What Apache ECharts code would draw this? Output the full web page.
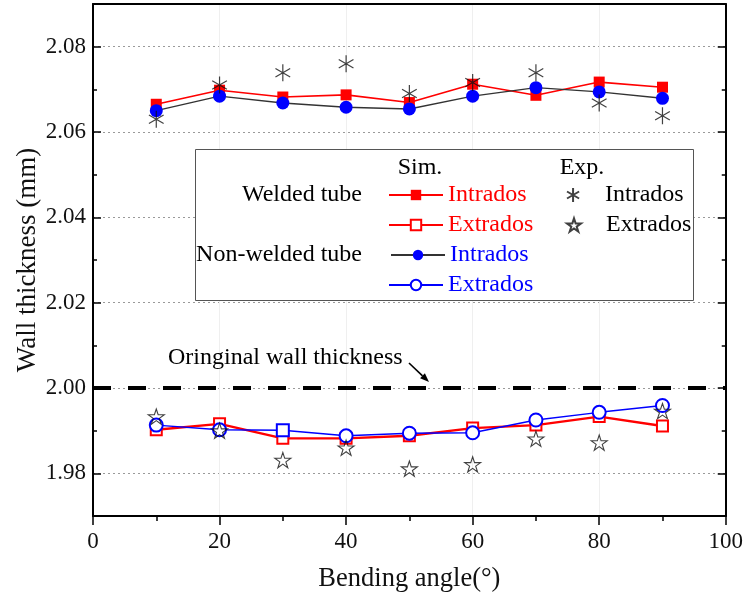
<!DOCTYPE html>
<html>
<head>
<meta charset="utf-8">
<script src="https://cdn.jsdelivr.net/npm/echarts@6/dist/echarts.min.js"></script>
<style>
  html, body { margin: 0; padding: 0; background: #fff; }
  #chart { width: 746px; height: 599px; }
</style>
</head>
<body>
<div id="chart"></div>
<script>
// Bending angles (degrees) at which wall thickness was evaluated
const angles = [10, 20, 30, 40, 50, 60, 70, 80, 90];

// Simulated wall thickness (mm)
const weldedIntradosSim    = [2.0665, 2.0698, 2.0682, 2.0687, 2.0669, 2.0712, 2.0686, 2.0717, 2.0705];
const weldedExtradosSim    = [1.9902, 1.9916, 1.9882, 1.9882, 1.9888, 1.9906, 1.9913, 1.9933, 1.9911];
const nonWeldedIntradosSim = [2.0650, 2.0684, 2.0668, 2.0658, 2.0654, 2.0684, 2.0704, 2.0694, 2.0679];
const nonWeldedExtradosSim = [1.9913, 1.9902, 1.9901, 1.9888, 1.9894, 1.9895, 1.9925, 1.9943, 1.9959];

// Experimental wall thickness (mm)
const intradosExp = [2.0630, 2.0710, 2.0739, 2.0760, 2.0690, 2.0716, 2.0739, 2.0668, 2.0638];
const extradosExp = [1.9933, 1.9900, 1.9831, 1.9860, 1.9811, 1.9821, 1.9881, 1.9872, 1.9946];

// Reference thickness of the tube before bending
const originalThickness = 2.00;

// Axis ranges and labelled ticks
const xRange = [0, 100];
const yRange = [1.97, 2.09];
const yMajorTicks = [1.98, 2.00, 2.02, 2.04, 2.06, 2.08];

const FONT = '"Liberation Serif", "Times New Roman", serif';
const RED = '#ff0000';
const BLUE = '#0000ff';

const pairs = vals => angles.map((a, i) => [a, vals[i]]);

const asteriskPath = 'path://M0,-10L0,10M-8.66,-5L8.66,5M-8.66,5L8.66,-5';
const starPath = 'path://M0,-10L2.245,-3.09L9.511,-3.09L3.633,1.18L5.878,8.09L0,3.82L-5.878,8.09L-3.633,1.18L-9.511,-3.09L-2.245,-3.09Z';

const chart = echarts.init(document.getElementById('chart'), null, { renderer: 'canvas' });

const tickLine = { color: '#000', width: 1.5 };
const frameLine = { show: true, onZero: false, lineStyle: { color: '#000', width: 2 } };

// One legend block per series so each entry can sit in its own row/column
function legendFor(name, text, color, left, centerY, iconW, iconH, textPad) {
  const h = iconH || 13;
  return {
    show: true,
    data: [name],
    left: left,
    top: centerY - 12,
    padding: 0,
    itemGap: 0,
    itemWidth: iconW,
    itemHeight: h,
    selectedMode: false,
    formatter: () => text,
    textStyle: { fontFamily: FONT, fontSize: 24, color: color, padding: [0, 0, 0, textPad || 0] }
  };
}

function label(text, x, y, align, size) {
  return {
    type: 'text', x: x, y: y, z: 10,
    style: {
      text: text, fill: '#000',
      font: (size || 24) + 'px ' + FONT,
      textAlign: align, align: align,
      textVerticalAlign: 'middle', verticalAlign: 'middle'
    }
  };
}

const option = {
  backgroundColor: '#fff',
  animation: false,
  grid: { left: 93, right: 18, top: 4, bottom: 83 },
  xAxis: [
    {
      type: 'value', position: 'bottom', min: xRange[0], max: xRange[1], interval: 10,
      axisLine: frameLine,
      axisTick: { show: true, inside: false, length: 5, lineStyle: tickLine },
      axisLabel: {
        formatter: v => (Math.round(v) % 20 === 0 ? String(Math.round(v)) : ''),
        fontFamily: FONT, fontSize: 23, color: '#111', margin: 14
      },
      splitLine: { show: false },
      name: 'Bending angle(°)', nameLocation: 'middle', nameGap: 50,
      nameTextStyle: { fontFamily: FONT, fontSize: 26.5, color: '#111' }
    },
    {
      type: 'value', position: 'bottom', min: xRange[0], max: xRange[1], interval: 20,
      axisLine: { show: false, onZero: false },
      axisTick: { show: true, inside: false, length: 9, lineStyle: tickLine },
      axisLabel: { show: false },
      splitLine: { show: true, lineStyle: { color: '#efefef', width: 1 } }
    },
    {
      type: 'value', position: 'top', min: xRange[0], max: xRange[1], interval: 20,
      axisLine: frameLine,
      axisTick: { show: false }, axisLabel: { show: false }, splitLine: { show: false }
    }
  ],
  yAxis: [
    {
      type: 'value', position: 'left', min: yRange[0], max: yRange[1], interval: 0.01,
      axisLine: frameLine,
      axisTick: { show: true, inside: true, length: 4, lineStyle: tickLine },
      axisLabel: {
        formatter: v => (Math.round(v * 100) % 2 === 0 ? v.toFixed(2) : ''),
        fontFamily: FONT, fontSize: 23, color: '#111', margin: 7
      },
      splitLine: { show: false },
      name: 'Wall thickness (mm)', nameLocation: 'middle', nameGap: 52, nameMoveOverlap: false,
      nameTextStyle: { fontFamily: FONT, fontSize: 27, color: '#111' }
    },
    {
      type: 'value', position: 'left', min: yRange[0], max: yRange[1],
      axisLine: { show: false, onZero: false },
      axisTick: { show: true, inside: true, length: 8, lineStyle: tickLine, customValues: yMajorTicks },
      axisLabel: { show: false, customValues: yMajorTicks },
      splitLine: { show: true, lineStyle: { color: '#9a9a9a', width: 1, type: [2, 3] } }
    },
    {
      type: 'value', position: 'right', min: yRange[0], max: yRange[1], interval: 0.01,
      axisLine: frameLine,
      axisTick: { show: true, inside: true, length: 4, lineStyle: tickLine },
      axisLabel: { show: false }, splitLine: { show: false }
    },
    {
      type: 'value', position: 'right', min: yRange[0], max: yRange[1],
      axisLine: { show: false, onZero: false },
      axisTick: { show: true, inside: true, length: 8, lineStyle: tickLine, customValues: yMajorTicks },
      axisLabel: { show: false, customValues: yMajorTicks }, splitLine: { show: false }
    }
  ],
  legend: [
    legendFor('Welded tube Sim. Intrados', 'Intrados', RED, 388, 195, 54),
    legendFor('Welded tube Sim. Extrados', 'Extrados', RED, 388, 225, 54),
    legendFor('Non-welded tube Sim. Intrados', 'Intrados', BLUE, 390, 255, 54),
    legendFor('Non-welded tube Sim. Extrados', 'Extrados', BLUE, 388, 285, 54),
    legendFor('Exp. Intrados', 'Intrados', '#000', 566, 195, 14, 14, 20),
    legendFor('Exp. Extrados', 'Extrados', '#000', 566, 225, 14, 14, 20)
  ],
  graphic: [
    {
      type: 'rect', z: 3,
      shape: { x: 195.5, y: 149.5, width: 498, height: 151 },
      style: { fill: '#fff', stroke: '#555', lineWidth: 1 }
    },
    label('Sim.', 420, 168, 'center'),
    label('Exp.', 582, 168, 'center'),
    label('Welded tube', 362, 195, 'right'),
    label('Non-welded tube', 362, 255, 'right'),
    label('Oringinal wall thickness', 168, 358, 'left'),
    {
      type: 'line', z: 10,
      shape: { x1: 409, y1: 363, x2: 422.5, y2: 375.8 },
      style: { stroke: '#000', lineWidth: 1.6 }
    },
    {
      type: 'polygon', z: 10,
      shape: { points: [[429, 382], [420.1, 378.3], [424.9, 373.3]] },
      style: { fill: '#000' }
    }
  ],
  series: [
    {
      name: 'Original wall thickness', type: 'line', silent: true,
      data: xRange.map(x => [x, originalThickness]),
      symbol: 'none', z: 1,
      lineStyle: { color: '#000', width: 4, type: [18, 17] }
    },
    {
      name: 'Welded tube Sim. Intrados', type: 'line', data: pairs(weldedIntradosSim),
      symbol: 'rect', symbolSize: 11,
      lineStyle: { color: RED, width: 1.6 },
      itemStyle: { color: RED }
    },
    {
      name: 'Non-welded tube Sim. Intrados', type: 'line', data: pairs(nonWeldedIntradosSim),
      symbol: 'circle', symbolSize: 13,
      lineStyle: { color: '#333', width: 1.4 },
      itemStyle: { color: BLUE }
    },
    {
      name: 'Welded tube Sim. Extrados', type: 'line', data: pairs(weldedExtradosSim),
      symbol: 'emptyRect', symbolSize: 11,
      lineStyle: { color: RED, width: 2.4 },
      itemStyle: { color: RED, borderWidth: 1.2 }
    },
    {
      name: 'Non-welded tube Sim. Extrados', type: 'line',
      data: pairs(nonWeldedExtradosSim).map(p => (p[0] === 30 ? { value: p, symbol: 'emptyRect', symbolSize: 12 } : p)),
      symbol: 'emptyCircle', symbolSize: 13,
      lineStyle: { color: BLUE, width: 1.4 },
      itemStyle: { color: BLUE, borderWidth: 1.2 }
    },
    {
      name: 'Exp. Intrados', type: 'scatter', data: pairs(intradosExp),
      symbol: asteriskPath, symbolSize: 17, symbolKeepAspect: true, z: 4,
      itemStyle: { color: 'rgba(0,0,0,0)', borderColor: '#111', borderWidth: 1.2 }
    },
    {
      name: 'Exp. Extrados', type: 'scatter', data: pairs(extradosExp),
      symbol: starPath, symbolSize: 16, symbolKeepAspect: true, z: 4,
      itemStyle: { color: 'rgba(0,0,0,0)', borderColor: '#111', borderWidth: 1.1 }
    }
  ]
};

chart.setOption(option);
</script>
</body>
</html>
